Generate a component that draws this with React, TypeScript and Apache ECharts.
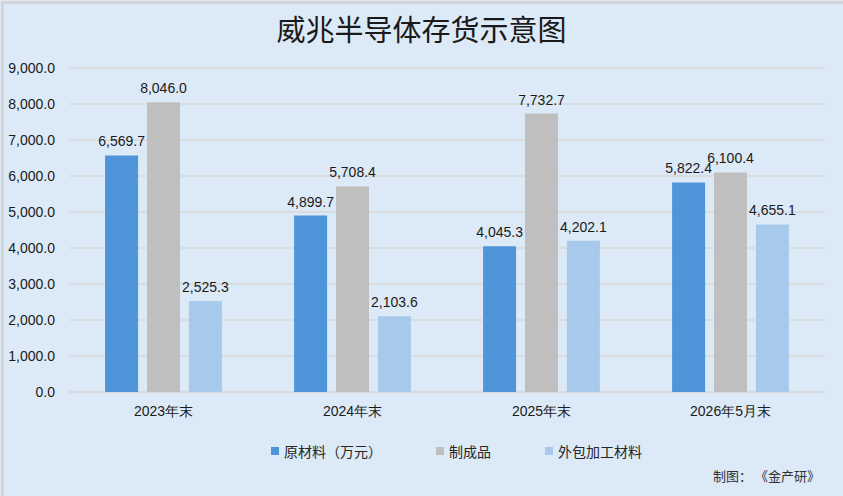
import React, { useEffect, useRef } from "react";
import * as echarts from "echarts";

const categories = ["2023年末", "2024年末", "2025年末", "2026年5月末"];
const rawMaterials = [6569.7, 4899.7, 4045.3, 5822.4];
const finishedGoods = [8046.0, 5708.4, 7732.7, 6100.4];
const outsourced = [2525.3, 2103.6, 4202.1, 4655.1];
const seriesNames = ["原材料（万元）", "制成品", "外包加工材料"];
const colors = ["#4f95da", "#bfbfbf", "#a7caec"];

const fmt = (v: number) =>
  v.toLocaleString("en-US", { minimumFractionDigits: 1, maximumFractionDigits: 1 });

export default function App() {
  const ref = useRef<HTMLDivElement>(null);
  useEffect(() => {
    if (!ref.current) return;
    const chart = echarts.init(ref.current, null, { renderer: "svg" });
    const font = "Liberation Sans, Arial, sans-serif";
    const data = [rawMaterials, finishedGoods, outsourced];
    const legendLefts = [266, 431, 540];
    chart.setOption({
      animation: false,
      backgroundColor: "#dce9f6",
      title: {
        text: "威兆半导体存货示意图",
        left: "center",
        top: 8,
        textStyle: {
          fontFamily: "Noto Sans CJK SC",
          fontSize: 29,
          fontWeight: "normal",
          color: "#1a1a1a",
        },
      },
      grid: { left: 69, right: 18, top: 68, bottom: 104, containLabel: false },
      legend: seriesNames.map((n, i) => ({
        top: 439,
        left: legendLefts[i],
        itemWidth: 8,
        itemHeight: 8,
        icon: "rect",
        textStyle: { fontFamily: "Noto Sans CJK SC", fontSize: 14, color: "#262626" },
        data: [n],
      })),
      graphic: [
        {
          type: "text",
          right: 23,
          top: 469,
          style: {
            text: "制图： 《金产研》",
            fontFamily: "Noto Sans CJK SC",
            fontSize: 13,
            fill: "#333",
          },
        },
        {
          type: "rect",
          left: 0,
          top: 0,
          shape: { width: 843, height: 496 },
          style: { fill: "none", stroke: "#d4d4d4", lineWidth: 3 },
          silent: true,
        },
      ],
      xAxis: {
        type: "category",
        data: categories,
        axisTick: { show: false },
        axisLine: { lineStyle: { color: "#d9d9d9", width: 1.5 } },
        axisLabel: {
          fontFamily: font,
          fontSize: 14,
          color: "#1a1a1a",
          margin: 12,
        },
      },
      yAxis: {
        type: "value",
        min: 0,
        max: 9000,
        interval: 1000,
        axisLabel: {
          fontFamily: font,
          fontSize: 14,
          color: "#1a1a1a",
          margin: 14,
          formatter: (v: number) => fmt(v),
        },
        splitLine: { lineStyle: { color: "#d9d9d9", width: 1.5 } },
        axisLine: { show: false },
        axisTick: { show: false },
      },
      series: data.map((d, i) => ({
        name: seriesNames[i],
        type: "bar",
        data: d,
        barWidth: 33,
        barGap: "27%",
        itemStyle: { color: colors[i] },
        label: {
          show: true,
          position: "top",
          distance: 7,
          fontFamily: font,
          fontSize: 14,
          color: "#1a1a1a",
          formatter: (p: any) => fmt(p.value),
        },
      })),
    });
    return () => chart.dispose();
  }, []);
  return (
    <div
      ref={ref}
      style={{ position: "absolute", left: 0, top: 0, width: 843, height: 496 }}
    />
  );
}
